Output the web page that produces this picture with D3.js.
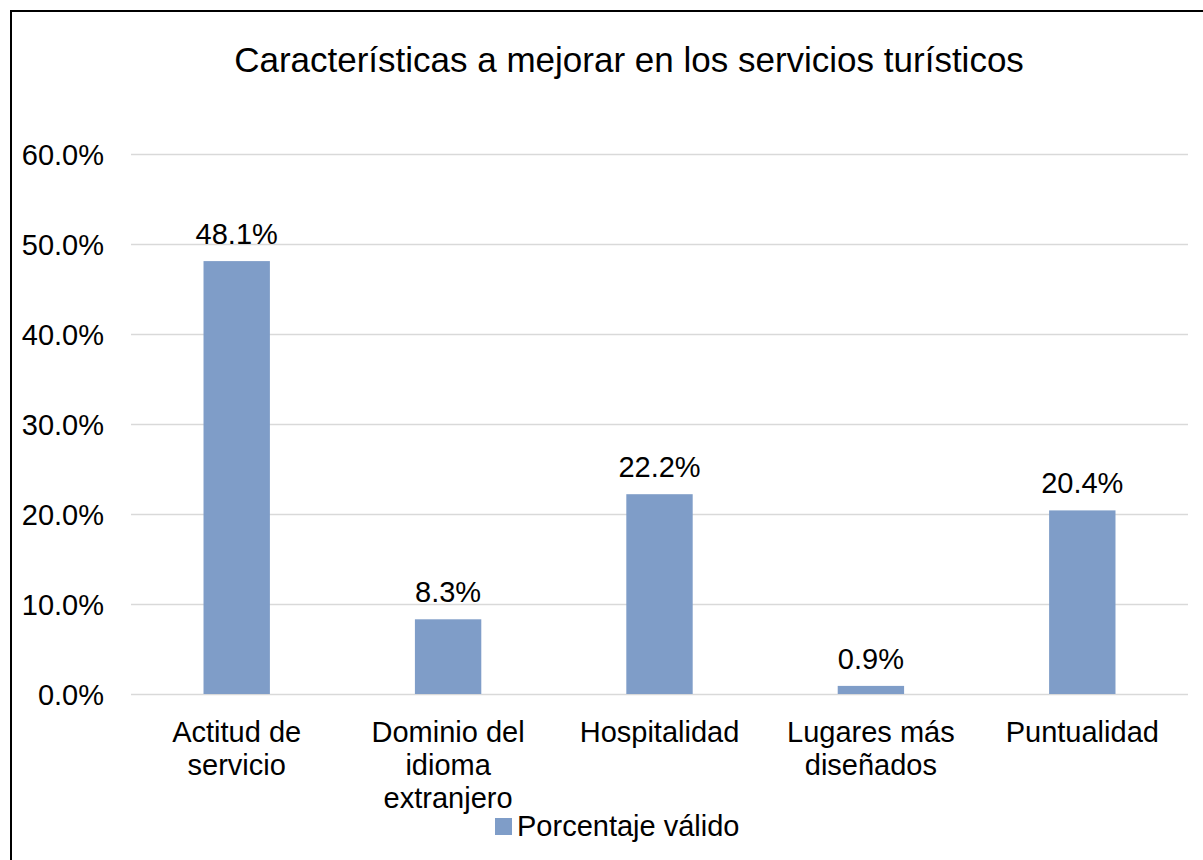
<!DOCTYPE html>
<html>
<head>
<meta charset="utf-8">
<script src="https://cdn.jsdelivr.net/npm/d3@7"></script>
<style>
  html, body { margin: 0; padding: 0; background: #fff; }
  svg { display: block; }
  text { font-family: "Liberation Sans", Arial, sans-serif; fill: #000; }
</style>
</head>
<body>
<svg id="chart" width="1203" height="860"></svg>
<script>
// Survey results: features to improve in tourist services
const categories = [
  ["Actitud de", "servicio"],
  ["Dominio del", "idioma", "extranjero"],
  ["Hospitalidad"],
  ["Lugares más", "diseñados"],
  ["Puntualidad"]
];
const values = [48.1, 8.3, 22.2, 0.9, 20.4];
const yTicks = [0, 10, 20, 30, 40, 50, 60];
const seriesName = "Porcentaje válido";
const chartTitle = "Características a mejorar en los servicios turísticos";

const barColor = "#7F9DC8";
const gridColor = "#D9D9D9";
const labelSize = "29px";

const svg = d3.select("#chart");
const W = 1203, H = 860;

// Outer frame (runs past the right and bottom edges)
svg.append("rect")
  .attr("x", 11).attr("y", 11)
  .attr("width", W).attr("height", H)
  .attr("fill", "none").attr("stroke", "#000").attr("stroke-width", 2);

const plot = { left: 131, right: 1188, top: 154, bottom: 694 };

const x = d3.scaleBand()
  .domain(d3.range(categories.length))
  .range([plot.left, plot.right])
  .paddingInner(0.686)
  .paddingOuter(0.343);

const y = d3.scaleLinear().domain([0, 60]).range([plot.bottom, plot.top]);

// Title
svg.append("text")
  .attr("x", 629).attr("y", 72)
  .attr("text-anchor", "middle")
  .style("font-size", "35px")
  .text(chartTitle);

// Gridlines
svg.append("g")
  .selectAll("line")
  .data(yTicks)
  .join("line")
  .attr("x1", plot.left).attr("x2", plot.right)
  .attr("y1", d => Math.round(y(d)) + 0.5).attr("y2", d => Math.round(y(d)) + 0.5)
  .attr("stroke", gridColor).attr("stroke-width", 1.5);

// Y axis labels
const yAxis = d3.axisLeft(y)
  .tickValues(yTicks)
  .tickFormat(d => d3.format(".1f")(d) + "%")
  .tickSize(0).tickPadding(27);
const yg = svg.append("g")
  .attr("transform", `translate(${plot.left},0)`)
  .call(yAxis);
yg.select(".domain").remove();
yg.selectAll("text")
  .style("font-family", '"Liberation Sans", Arial, sans-serif')
  .style("font-size", labelSize)
  .attr("fill", "#000")
  .attr("dy", "0.35em");

// Bars
svg.append("g")
  .selectAll("rect")
  .data(values)
  .join("rect")
  .attr("x", (d, i) => x(i))
  .attr("width", x.bandwidth())
  .attr("y", d => y(d))
  .attr("height", d => y(0) - y(d))
  .attr("fill", barColor);

// Value labels
svg.append("g")
  .selectAll("text")
  .data(values)
  .join("text")
  .attr("x", (d, i) => x(i) + x.bandwidth() / 2)
  .attr("y", d => y(d) - 17)
  .attr("text-anchor", "middle")
  .style("font-size", labelSize)
  .text(d => d3.format(".1f")(d) + "%");

// Category labels
const catG = svg.append("g")
  .selectAll("text")
  .data(categories)
  .join("text")
  .attr("text-anchor", "middle")
  .style("font-size", labelSize);
catG.each(function(lines, i) {
  d3.select(this).selectAll("tspan")
    .data(lines)
    .join("tspan")
    .attr("x", x(i) + x.bandwidth() / 2)
    .attr("y", (l, j) => 741.5 + j * 33)
    .text(l => l);
});

// Legend
const legend = svg.append("g");
legend.append("rect")
  .attr("x", 495).attr("y", 818)
  .attr("width", 17).attr("height", 17)
  .attr("fill", barColor);
legend.append("text")
  .attr("x", 517).attr("y", 836)
  .style("font-size", labelSize)
  .text(seriesName);
</script>
</body>
</html>
